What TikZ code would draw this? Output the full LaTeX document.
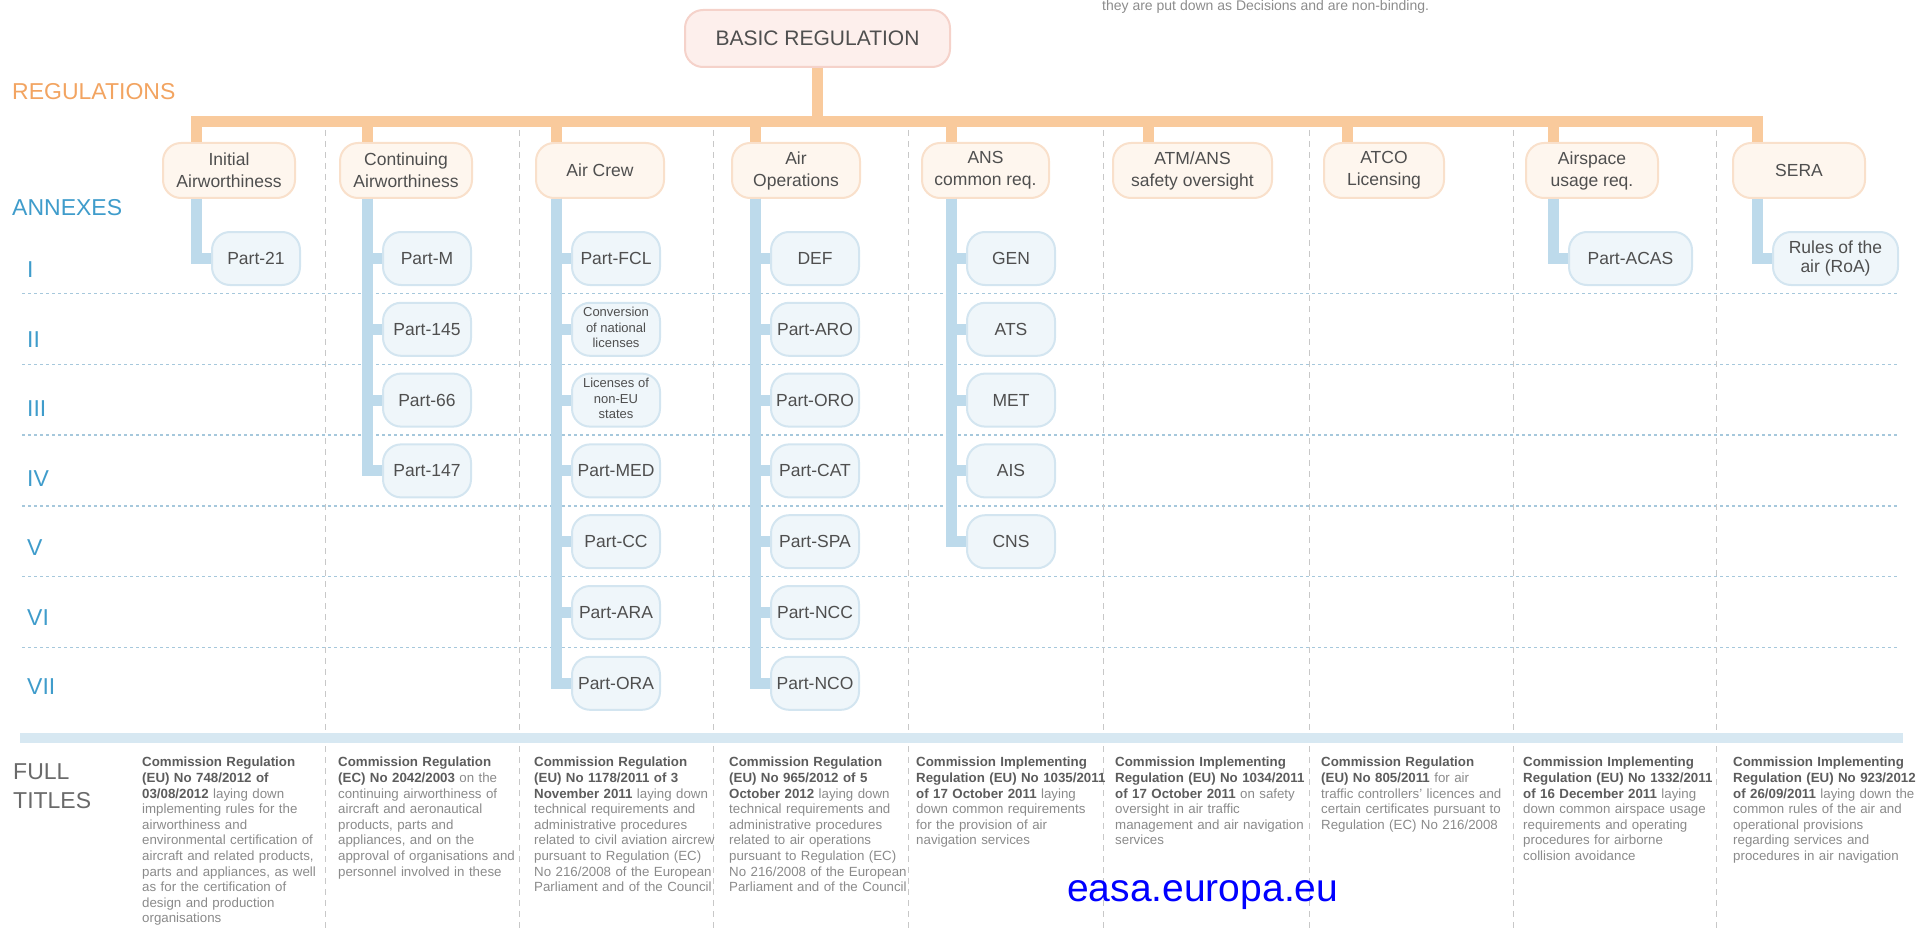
\documentclass[tikz,border=0pt]{standalone}
\usepackage{fontspec}
\setmainfont{Liberation Sans}

\definecolor{regtext}{HTML}{F2A461}
\definecolor{regbar}{HTML}{F9CA9C}
\definecolor{regfill}{HTML}{FEF6EE}
\definecolor{regedge}{HTML}{F9E0CB}
\definecolor{basicfill}{HTML}{FDEFEC}
\definecolor{basicedge}{HTML}{F5D2CA}
\definecolor{anxtext}{HTML}{3F9CCB}
\definecolor{anxbar}{HTML}{BDDAEB}
\definecolor{partfill}{HTML}{EFF6FA}
\definecolor{partedge}{HTML}{D3E5F0}
\definecolor{rowsep}{HTML}{A6C8DC}
\definecolor{colsep}{HTML}{C8C8C8}
\definecolor{footbar}{HTML}{D7E8F2}
\definecolor{boxtext}{HTML}{4F4F4F}
\definecolor{footlbl}{HTML}{6A6A6A}
\definecolor{titletext}{HTML}{8A8A8A}
\definecolor{titlebold}{HTML}{5C5C5C}
\definecolor{notetext}{HTML}{8C8C8C}
\definecolor{easablue}{HTML}{0000FF}

\newcommand{\fsz}[2]{\fontsize{#1}{#2}\selectfont}
\newcommand{\regno}[1]{\textbf{\color{titlebold}#1}}
% three short lines in a smaller size, for the long annex names
\newcommand{\smalllbl}[1]{\fsz{13}{15.5}\begin{tabular}{@{}c@{}}#1\end{tabular}}

\tikzset{
  basicbox/.style={draw=basicedge, fill=basicfill, line width=2pt, rounded corners=18pt,
    minimum width=265pt, minimum height=57pt, inner sep=0pt, text=boxtext, font=\fsz{21}{24}},
  regbox/.style={draw=regedge, fill=regfill, line width=2pt, rounded corners=18pt,
    minimum height=55pt, inner sep=0pt, align=center, text=boxtext, font=\fsz{17.5}{22}},
  partbox/.style={draw=partedge, fill=partfill, line width=2pt, rounded corners=18pt,
    minimum height=53pt, inner sep=0pt, align=center, anchor=west, text=boxtext, font=\fsz{17.5}{19}},
  regline/.style={draw=regbar, line width=11pt},
  anxline/.style={draw=anxbar, line width=11pt, line join=miter},
  rowline/.style={draw=rowsep, line width=1.5pt, dash pattern=on 3pt off 3pt},
  colline/.style={draw=colsep, line width=1pt, dash pattern=on 6pt off 5pt},
  side/.style={anchor=west, inner sep=0pt, font=\fsz{23}{29}},
  fulltitle/.style={anchor=north west, inner sep=0pt, align=left, text width=220pt,
    text=titletext, font=\fsz{13.3}{15.6}}
}

\begin{document}
\begin{tikzpicture}[x=1pt,y=-1pt]
  \useasboundingbox (0,0) rectangle (1919,936);

  % grid: annex rows and regulation columns
  \foreach \k in {0,...,5}
    \draw[rowline] (22,{293.5+70.8*\k}) -- (1897,{293.5+70.8*\k});
  \foreach \x in {325,519,713,908,1103,1309,1513,1716}
    \draw[colline] (\x,130) -- (\x,930);
  \draw[footbar, line width=10pt] (20,738) -- (1903,738);

  \node[anchor=base west, inner sep=0pt, text=notetext, font=\fsz{14}{16}] (note) at (1102,10.5)
    {they are put down as Decisions and are non-binding.};

  % row labels
  \node[side, text=regtext] (regs) at (12,92) {REGULATIONS};
  \node[side, text=anxtext] (anx) at (12,208) {ANNEXES};
  \foreach \t [count=\r from 0] in {I,II,III,IV,V,VI,VII}
    \node[side, text=anxtext] (num\r) at (27,{270+69.5*\r}) {\t};
  \node[side, anchor=north west, align=left, text=footlbl] (full) at (13,763) {FULL\\TITLES};

  % basic regulation and the implementing regulations
  \node[basicbox] (basic) at (817.5,38.5) {BASIC REGULATION};
  \foreach \n/\d/\c/\w/\t in {
      1/196/229/132/{Initial\\Airworthiness},
      2/367/406/132/{Continuing\\Airworthiness},
      3/556/600/128/{Air Crew},
      4/755/796/128/{Air\\Operations},
      5/951/985.5/127/{ANS\\common req.},
      6/1148/1192.5/159/{ATM/ANS\\safety oversight},
      7/1347/1384/120/{ATCO\\Licensing},
      8/1553/1592/132/{Airspace\\usage req.},
      9/1757/1799/132/{SERA}} {
    \node[regbox, minimum width=\w pt] (top\n) at (\c,170.5) {\t};
    \coordinate (d\n) at (\d,122);
  }
  \draw[regline] (basic.south) -- (basic.south |- d1);
  \draw[regline, line join=miter] (top1.north -| d1) -- (d1) -- (d9) -- (top9.north -| d9);
  \foreach \n in {2,...,8}
    \draw[regline] (d\n) -- (top\n.north -| d\n);

  % annexes of each regulation
  \foreach \n/\d/\w/\parts in {
      1/196/88/{Part-21},
      2/367/88/{Part-M,Part-145,Part-66,Part-147},
      3/556/88/{Part-FCL,{\smalllbl{Conversion\\of national\\licenses}},
                {\smalllbl{Licenses of\\non-EU\\states}},Part-MED,Part-CC,Part-ARA,Part-ORA},
      4/755/88/{DEF,Part-ARO,Part-ORO,Part-CAT,Part-SPA,Part-NCC,Part-NCO},
      5/951/88/{GEN,ATS,MET,AIS,CNS},
      8/1553/123/{Part-ACAS},
      9/1757/125/{{Rules of the\\air (RoA)}}} {
    \foreach \t [count=\r from 0] in \parts {
      \node[partbox, minimum width=\w pt] (p\n-\r) at ({\d+15},{258.5+70.8*\r}) {\t};
      \draw[anxline] (top\n.south -| d\n) |- (p\n-\r.west);
    }
  }

  % full titles
  \node[fulltitle] (ft1) at (142,757) {\regno{Commission Regulation}\\
    \regno{(EU) No 748/2012 of}\\ \regno{03/08/2012} laying down\\ implementing rules for the\\
    airworthiness and\\ environmental certification of\\ aircraft and related products,\\
    parts and appliances, as well\\ as for the certification of\\ design and production\\ organisations};
  \node[fulltitle] (ft2) at (338,757) {\regno{Commission Regulation}\\
    \regno{(EC) No 2042/2003} on the\\ continuing airworthiness of\\ aircraft and aeronautical\\
    products, parts and\\ appliances, and on the\\ approval of organisations and\\ personnel involved in these};
  \node[fulltitle] (ft3) at (534,757) {\regno{Commission Regulation}\\
    \regno{(EU) No 1178/2011 of 3}\\ \regno{November 2011} laying down\\ technical requirements and\\
    administrative procedures\\ related to civil aviation aircrew\\ pursuant to Regulation (EC)\\
    No 216/2008 of the European\\ Parliament and of the Council};
  \node[fulltitle] (ft4) at (729,757) {\regno{Commission Regulation}\\
    \regno{(EU) No 965/2012 of 5}\\ \regno{October 2012} laying down\\ technical requirements and\\
    administrative procedures\\ related to air operations\\ pursuant to Regulation (EC)\\
    No 216/2008 of the European\\ Parliament and of the Council};
  \node[fulltitle] (ft5) at (916,757) {\regno{Commission Implementing}\\
    \regno{Regulation (EU) No 1035/2011}\\ \regno{of 17 October 2011} laying\\
    down common requirements\\ for the provision of air\\ navigation services};
  \node[fulltitle] (ft6) at (1115,757) {\regno{Commission Implementing}\\
    \regno{Regulation (EU) No 1034/2011}\\ \regno{of 17 October 2011} on safety\\
    oversight in air traffic\\ management and air navigation\\ services};
  \node[fulltitle] (ft7) at (1321,757) {\regno{Commission Regulation}\\
    \regno{(EU) No 805/2011} for air\\ traffic controllers' licences and\\
    certain certificates pursuant to\\ Regulation (EC) No 216/2008};
  \node[fulltitle] (ft8) at (1523,757) {\regno{Commission Implementing}\\
    \regno{Regulation (EU) No 1332/2011}\\ \regno{of 16 December 2011} laying\\
    down common airspace usage\\ requirements and operating\\ procedures for airborne\\ collision avoidance};
  \node[fulltitle] (ft9) at (1733,757) {\regno{Commission Implementing}\\
    \regno{Regulation (EU) No 923/2012}\\ \regno{of 26/09/2011} laying down the\\
    common rules of the air and\\ operational provisions\\ regarding services and\\ procedures in air navigation};

  \node[anchor=base west, inner sep=0pt, text=easablue, font=\fsz{39}{44}] (site) at (1067,901) {easa.europa.eu};
\end{tikzpicture}
\end{document}
